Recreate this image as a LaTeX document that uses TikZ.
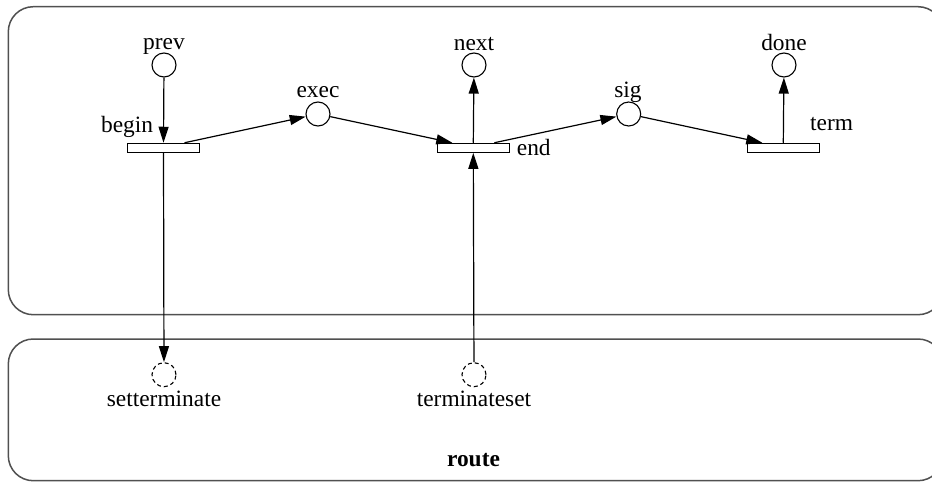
\documentclass[tikz,border=0pt]{standalone}
\usepackage{fontspec}
\setmainfont{Liberation Serif}
\usetikzlibrary{arrows.meta}
\begin{document}
\begin{tikzpicture}[x=1pt,y=-1pt,
  place/.style={circle,draw,line width=1.1pt,minimum size=24pt,inner sep=0pt},
  dplace/.style={place,dashed,dash pattern=on 4pt off 3pt},
  trans/.style={rectangle,draw,line width=1.1pt,minimum width=72pt,minimum height=9pt,inner sep=0pt},
  lbl/.style={inner sep=0pt,font=\fontsize{23.4}{28}\selectfont},
  arr/.style={line width=1.2pt,-{Triangle[length=16pt,width=10pt]}},
  frame/.style={draw={rgb,255:red,80;green,80;blue,80},line width=1.5pt,rounded corners=25pt}]
\useasboundingbox (0,0) rectangle (932,482);
\begin{scope}
\clip (0,0) rectangle (932,482);
\draw[frame] (8.3,6.7) rectangle (943,314.7);
\draw[frame] (8.3,339) rectangle (943,480.7);
\end{scope}
% places
\node[place] (prev) at (164,65) {};
\node[place] (exec) at (318,114) {};
\node[place] (next) at (474,65) {};
\node[place] (sig) at (628.7,114) {};
\node[place] (done) at (784,65) {};
\node[dplace] (setterminate) at (164,374.7) {};
\node[dplace] (terminateset) at (474,374.7) {};
% transitions
\node[trans] (begin) at (163.5,147.8) {};
\node[trans] (end) at (473.3,147.8) {};
\node[trans] (term) at (783.3,147.8) {};
% labels
\node[lbl,anchor=base] (prevL) at (164,49) {prev};
\node[lbl,anchor=base] (execL) at (318,97) {exec};
\node[lbl,anchor=base] (nextL) at (474,50) {next};
\node[lbl,anchor=base] (sigL) at (628,97) {sig};
\node[lbl,anchor=base] (doneL) at (784,50) {done};
\node[lbl,anchor=base east] (beginL) at (153.3,132.7) {begin};
\node[lbl,anchor=base west] (endL) at (516.7,155) {end};
\node[lbl,anchor=base west] (termL) at (810,130) {term};
\node[lbl,anchor=base] (setL) at (164,406) {setterminate};
\node[lbl,anchor=base] (tsetL) at (474,406) {terminateset};
\node[lbl,anchor=base,font=\fontsize{23.4}{28}\selectfont\bfseries] (routeL) at (473.5,466.7) {route};
% arcs
\draw[arr] (prev) -- (begin.north);
\draw[arr] ([xshift=21pt]begin.north) -- (exec);
\draw[arr] (exec) -- ([xshift=-21pt]end.north);
\draw[arr] (end.north) -- (next);
\draw[arr] ([xshift=21pt]end.north) -- (sig);
\draw[arr] (sig) -- ([xshift=-21pt]term.north);
\draw[arr] (term.north) -- (done);
\draw[arr] (begin.south) -- (setterminate);
\draw[arr] (terminateset) -- (end.south);
\end{tikzpicture}
\end{document}
